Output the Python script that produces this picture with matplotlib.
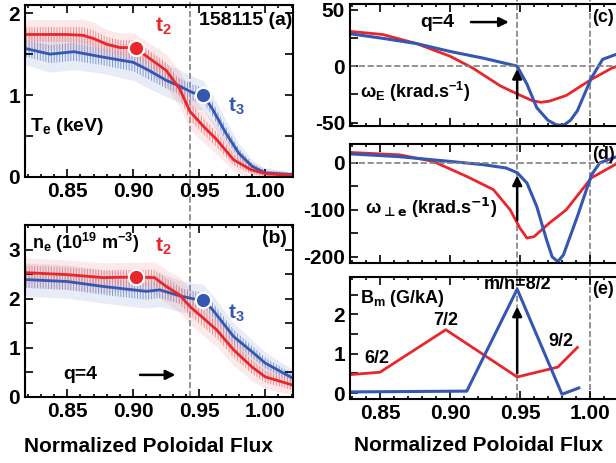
import numpy as np
import matplotlib
matplotlib.use("Agg")
import matplotlib.pyplot as plt
from matplotlib.lines import Line2D
from matplotlib.transforms import blended_transform_factory
from matplotlib.ticker import MultipleLocator

# ================================
# DATA
# ================================
# (a) electron temperature, keV
te_x_t2 = [0.818, 0.85, 0.862, 0.87, 0.88, 0.89, 0.90, 0.907, 0.925, 0.935, 0.943, 0.953, 0.963, 0.976, 0.989, 1.0, 1.021]
te_t2 = [1.74, 1.74, 1.73, 1.69, 1.62, 1.58, 1.58, 1.51, 1.30, 1.08, 0.80, 0.62, 0.46, 0.21, 0.09, 0.04, 0.02]
te_x_t3 = [0.818, 0.837, 0.855, 0.875, 0.90, 0.912, 0.925, 0.935, 0.945, 0.953, 0.96, 0.97, 0.98, 0.99, 1.0, 1.021]
te_t3 = [1.57, 1.50, 1.53, 1.47, 1.40, 1.30, 1.18, 1.11, 1.03, 1.0, 0.83, 0.54, 0.29, 0.13, 0.05, 0.03]
te_err_t2 = [0.09, 0.09, 0.10, 0.10, 0.09, 0.09, 0.09, 0.09, 0.10, 0.11, 0.11, 0.10, 0.09, 0.07, 0.05, 0.03, 0.02]
te_err_t3 = [0.10, 0.11, 0.11, 0.10, 0.11, 0.11, 0.10, 0.10, 0.10, 0.09, 0.09, 0.08, 0.06, 0.04, 0.03, 0.02]

# (b) electron density, 1e19 m^-3
ne_x_t2 = [0.818, 0.85, 0.877, 0.90, 0.916, 0.925, 0.935, 0.943, 0.952, 0.963, 0.976, 0.99, 1.0, 1.021]
ne_t2 = [2.53, 2.49, 2.43, 2.44, 2.43, 2.25, 2.08, 1.84, 1.63, 1.37, 0.96, 0.61, 0.41, 0.24]
ne_x_t3 = [0.818, 0.85, 0.877, 0.90, 0.91, 0.92, 0.935, 0.945, 0.953, 0.96, 0.976, 0.99, 1.0, 1.021]
ne_t3 = [2.39, 2.35, 2.25, 2.18, 2.15, 2.18, 2.06, 2.0, 1.97, 1.78, 1.23, 0.92, 0.69, 0.38]
ne_err_t2 = [0.15, 0.15, 0.15, 0.15, 0.16, 0.17, 0.18, 0.18, 0.18, 0.17, 0.16, 0.14, 0.12, 0.10]
ne_err_t3 = [0.17, 0.17, 0.17, 0.17, 0.17, 0.17, 0.16, 0.16, 0.16, 0.15, 0.14, 0.12, 0.11, 0.09]

# markers for t2 / t3
mark_x = [0.902, 0.953]
mark_te = [1.58, 1.0]
mark_ne = [2.44, 1.97]

# (c) omega_E, krad/s
we_x_t2 = [0.829, 0.852, 0.876, 0.90, 0.916, 0.936, 0.948, 0.959, 0.965, 0.971, 0.983, 1.001, 1.016, 1.03, 1.05]
we_t2 = [30.7, 28, 20, 8.8, -1.5, -17.5, -24.6, -30.7, -32, -31, -26, -11.7, -1.5, 4, 7]
we_x_t3 = [0.829, 0.852, 0.876, 0.90, 0.924, 0.948, 0.955, 0.962, 0.97, 0.976, 0.981, 0.986, 0.991, 1.001, 1.009, 1.02, 1.035, 1.05]
we_t3 = [28.6, 24.6, 20, 13, 7, 0, -16, -36.8, -48, -52, -52.5, -48, -39.5, -10.5, 6, 11, 12, 10]

# (d) omega_perp_e, krad/s
wp_x_t2 = [0.829, 0.864, 0.888, 0.912, 0.931, 0.943, 0.95, 0.955, 0.96, 0.971, 0.983, 1.001, 1.019, 1.035, 1.05]
wp_t2 = [22, 17, 3, -29, -57, -100, -139, -160, -157, -128, -100, -32, -2, 8, 12]
wp_x_t3 = [0.829, 0.864, 0.90, 0.924, 0.94, 0.948, 0.955, 0.962, 0.969, 0.973, 0.977, 0.981, 0.991, 1.001, 1.007, 1.02, 1.035, 1.05]
wp_t3 = [19, 13, 3, -4, -11, -21, -43, -93, -164, -200, -210, -196, -114, -26, 0, 14, 18, 18]

# (e) mode amplitude B_m, G/kA
bm_x_t2 = [0.829, 0.85, 0.897, 0.948, 0.977, 0.991]
bm_t2 = [0.47, 0.53, 1.61, 0.41, 0.66, 1.16]
bm_x_t3 = [0.829, 0.912, 0.948, 0.98, 0.992]
bm_t3 = [0.03, 0.05, 2.64, -0.03, 0.13]
mode_labels = ["6/2", "7/2", "m/n=8/2", "9/2"]
mode_x = [0.848, 0.897, 0.948, 0.979]
mode_y = [0.87, 1.85, 2.76, 1.32]

q4_left = 0.943
q4_right = 0.948

# ================================
# STYLE
# ================================
plt.rcParams["font.family"] = ["Liberation Sans", "DejaVu Sans"]
plt.rcParams["font.weight"] = "bold"
plt.rcParams["axes.labelweight"] = "bold"
plt.rcParams["axes.unicode_minus"] = False
plt.rcParams["mathtext.fontset"] = "custom"
plt.rcParams["mathtext.rm"] = "Liberation Sans:bold"
plt.rcParams["mathtext.it"] = "Liberation Sans:bold"
plt.rcParams["mathtext.bf"] = "Liberation Sans:bold"
plt.rcParams["hatch.linewidth"] = 0.7

RED = "#e8262b"
BLUE = "#3557b2"
RED_L = "#f08a8c"
BLUE_L = "#7d9ad8"

fig = plt.figure(figsize=(6.16, 4.63), dpi=100)

W, H = 616, 463


def add_ax(l, r, t, b):
    ax = fig.add_axes([l / W, 1 - b / H, (r - l) / W, (b - t) / H])
    ax.patch.set_alpha(0)
    return ax


ax_a = add_ax(25, 293, 5, 177)
ax_b = add_ax(25, 293, 225, 397)
ax_c = add_ax(350, 660, 4, 126)
ax_d = add_ax(350, 660, 144, 263)
ax_e = add_ax(350, 660, 277, 399)


def style(ax, xlim, ylim, ymaj, ymin, xlabels=True):
    ax.set_xlim(*xlim)
    ax.set_ylim(*ylim)
    ax.yaxis.set_major_locator(MultipleLocator(ymaj))
    ax.yaxis.set_minor_locator(MultipleLocator(ymin))
    ax.xaxis.set_minor_locator(MultipleLocator(0.01))
    ax.tick_params(which="both", direction="in", top=True, right=True,
                   labelsize=15, width=1.2)
    ax.tick_params(which="major", length=6)
    ax.tick_params(which="minor", length=2.5)
    ax.tick_params(axis="y", which="minor", length=6)
    ax.set_xticks([0.85, 0.90, 0.95, 1.00])
    if xlabels:
        ax.set_xticklabels(["0.85", "0.90", "0.95", "1.00"])
    else:
        ax.set_xticklabels([])
    for s in ax.spines.values():
        s.set_linewidth(1.5)


def profile(ax, x, y, err, color, light):
    x = np.array(x)
    y = np.array(y)
    err = np.array(err)
    ax.fill_between(x, y - 2.0 * err, y + 2.0 * err, color=light, alpha=0.18, lw=0)
    ax.fill_between(x, y - err, y + err, facecolor="none", edgecolor=light,
                    hatch="||||||", lw=0)
    ax.plot(x, y, color=color, lw=2)


arrow_kw = dict(arrowstyle="-|>", color="black", lw=1.8, mutation_scale=14)

# ---- (a) Te ----
profile(ax_a, te_x_t3, te_t3, te_err_t3, BLUE, BLUE_L)
profile(ax_a, te_x_t2, te_t2, te_err_t2, RED, RED_L)
ax_a.plot(mark_x[0], mark_te[0], "o", color=RED, ms=11, mec="white", mew=1.5, zorder=5)
ax_a.plot(mark_x[1], mark_te[1], "o", color=BLUE, ms=11, mec="white", mew=1.5, zorder=5)
style(ax_a, (0.818, 1.021), (0, 2.1), 1, 0.5)
ax_a.text(0.923, 1.84, r"t$_2$", color=RED, fontsize=15, ha="center", va="center")
ax_a.text(0.978, 0.86, r"t$_3$", color=BLUE, fontsize=15, ha="center", va="center")
ax_a.text(0.985, 2.02, "158115 (a)", fontsize=14, ha="center", va="top")
ax_a.text(0.822, 0.62, r"T$_{\mathregular{e}}$ (keV)", fontsize=14, ha="left", va="center")

# ---- (b) ne ----
profile(ax_b, ne_x_t3, ne_t3, ne_err_t3, BLUE, BLUE_L)
profile(ax_b, ne_x_t2, ne_t2, ne_err_t2, RED, RED_L)
ax_b.plot(mark_x[0], mark_ne[0], "o", color=RED, ms=11, mec="white", mew=1.5, zorder=5)
ax_b.plot(mark_x[1], mark_ne[1], "o", color=BLUE, ms=11, mec="white", mew=1.5, zorder=5)
style(ax_b, (0.818, 1.021), (0, 3.5), 1, 0.5)
ax_b.text(0.823, 3.14, r"n$_{\mathregular{e}}$ (10$^{19}$ m$^{-3}$)", fontsize=13, ha="left", va="center")
ax_b.text(0.923, 3.06, r"t$_2$", color=RED, fontsize=15, ha="center", va="center")
ax_b.text(0.978, 1.71, r"t$_3$", color=BLUE, fontsize=15, ha="center", va="center")
ax_b.text(1.016, 3.4, "(b)", fontsize=14, ha="right", va="top")
ax_b.text(0.86, 0.45, "q=4", fontsize=14, ha="center", va="center")
ax_b.annotate("", xy=(0.934, 0.45), xytext=(0.903, 0.45), arrowprops=arrow_kw)
ax_b.set_xlabel("Normalized Poloidal Flux", fontsize=15)
ax_b.xaxis.set_label_coords(0.459, -0.235)

# ---- (c) omega_E ----
ax_c.plot(we_x_t2, we_t2, color=RED, lw=2)
ax_c.plot(we_x_t3, we_t3, color=BLUE, lw=2.2)
ax_c.axhline(0, color="gray", ls="--", lw=1.2)
style(ax_c, (0.8286, 1.05), (-53, 55), 50, 25, xlabels=False)
ax_c.text(0.891, 39, "q=4", fontsize=14, ha="center", va="center")
ax_c.annotate("", xy=(0.944, 39), xytext=(0.913, 39), arrowprops=arrow_kw)
ax_c.annotate("", xy=(q4_right, 0), xytext=(q4_right, -31), arrowprops=arrow_kw)
ax_c.text(0.836, -23, r"$\omega_{\mathregular{E}}$ (krad.s$^{-1}$)", fontsize=13, ha="left", va="center")
ax_c.text(1.0015, 51, "(c)", fontsize=13, ha="left", va="top")

# ---- (d) omega_perp_e ----
ax_d.plot(wp_x_t2, wp_t2, color=RED, lw=2)
ax_d.plot(wp_x_t3, wp_t3, color=BLUE, lw=2.2)
ax_d.axhline(0, color="gray", ls="--", lw=1.2)
style(ax_d, (0.8286, 1.05), (-213, 40), 100, 50, xlabels=False)
ax_d.annotate("", xy=(q4_right, -21), xytext=(q4_right, -128), arrowprops=arrow_kw)
ax_d.text(0.839, -96, r"$\mathregular{\omega}_{\bot\mathbf{e}}$ (krad.s$^{\mathbf{-1}}$)", fontsize=13,
          ha="left", va="center", math_fontfamily="dejavusans")
ax_d.text(1.0015, 36, "(d)", fontsize=13, ha="left", va="top")

# ---- (e) B_m ----
ax_e.plot(bm_x_t2, bm_t2, color=RED, lw=2)
ax_e.plot(bm_x_t3, bm_t3, color=BLUE, lw=2.2)
style(ax_e, (0.8286, 1.05), (-0.15, 2.95), 1, 0.5)
ax_e.annotate("", xy=(q4_right, 2.27), xytext=(q4_right, 0.43), arrowprops=arrow_kw)
for lab, mx, my in zip(mode_labels, mode_x, mode_y):
    ax_e.text(mx, my, lab, fontsize=13, ha="center", va="center")
ax_e.text(0.836, 2.4, r"B$_{\mathregular{m}}$ (G/kA)", fontsize=13, ha="left", va="center")
ax_e.text(1.0015, 2.85, "(e)", fontsize=13, ha="left", va="top")
ax_e.set_xlabel("Normalized Poloidal Flux", fontsize=15)
ax_e.xaxis.set_label_coords(0.413, -0.30)

# ---- dashed q=4 / separatrix lines spanning panels ----
for ax, xv, y0 in [(ax_a, q4_left, 1 - 397 / H), (ax_c, q4_right, 1 - 399 / H), (ax_c, 1.0, 1 - 399 / H)]:
    tr = blended_transform_factory(ax.transData, fig.transFigure)
    fig.add_artist(Line2D([xv, xv], [y0, 1.0], transform=tr, color="gray",
                          ls="--", lw=1.2, zorder=-1))

fig.savefig("out.png", dpi=100)
